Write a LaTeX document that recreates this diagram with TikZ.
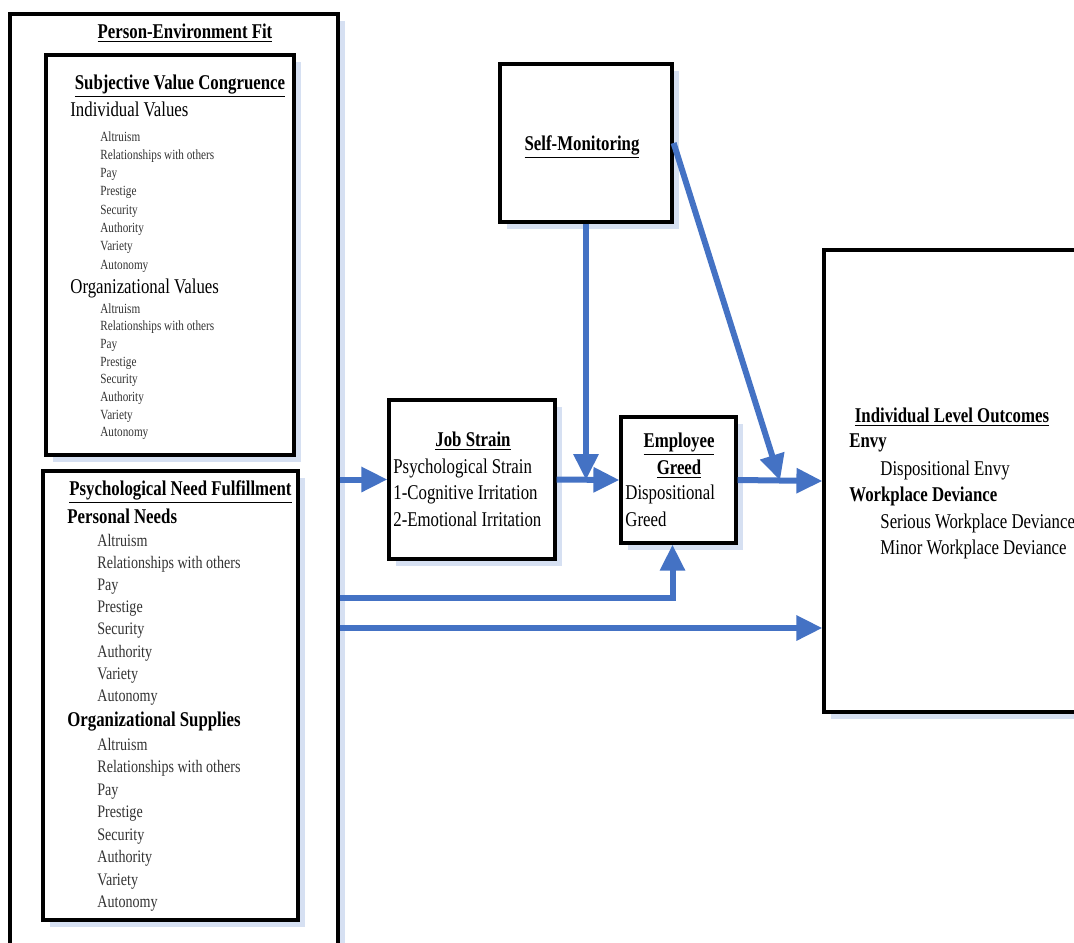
\documentclass[tikz,border=0pt]{standalone}
\usepackage{fontspec}
\setmainfont{Liberation Serif}[FakeStretch=0.8]
\usetikzlibrary{arrows.meta , shadows , calc}

\definecolor{arrowblue}{RGB}{68,114,196}
\definecolor{shadowblue}{RGB}{214,224,242}

\newcommand{\valuelist}{Altruism, Relationships with others, Pay, Prestige, Security, Authority, Variety, Autonomy}

\tikzset{
    box/.style = {draw , line width = 1.6pt , fill = white , inner sep = 0pt ,
        drop shadow = {shadow xshift = 3.5pt , shadow yshift = -3.5pt , fill = shadowblue , opacity = 1}},
    link/.style = {draw = arrowblue , line width = 3pt , -{Triangle[length = 13pt , width = 12pt]}},
    title/.style = {font = \fontsize{10.5}{13}\selectfont\bfseries , inner sep = 0pt , anchor = base},
    subhead/.style = {font = \fontsize{10.5}{13}\selectfont\bfseries , inner sep = 0pt , anchor = base west},
    label/.style = {font = \fontsize{10.5}{13}\selectfont , inner sep = 0pt , anchor = base west},
    itemsm/.style = {font = \fontsize{7}{9}\selectfont , text = black!80 , inner sep = 0pt , anchor = base west},
    itemmd/.style = {font = \fontsize{8.8}{11}\selectfont , text = black!80 , inner sep = 0pt , anchor = base west}
}

\begin{document}
\begin{tikzpicture}[x = 0.5pt , y = -0.5pt]
    \useasboundingbox (0,0) rectangle (1074,942);
    \clip (0,0) rectangle (1074,942);

    % Kasten
    \node[box , minimum width = 164pt , minimum height = 478pt] (pe) at (174,492) {};
    \node[box , minimum width = 124pt , minimum height = 200pt] (svc) at (170,255) {};
    \node[box , minimum width = 127.5pt , minimum height = 224.5pt] (pnf) at (170.5,695.5) {};
    \node[box , minimum width = 86pt , minimum height = 79pt] (sm) at (586,143) {};
    \node[box , minimum width = 83pt , minimum height = 79.5pt] (js) at (472,479.5) {};
    \node[box , minimum width = 57.5pt , minimum height = 63pt] (eg) at (678.5,480) {};
    \node[box , minimum width = 133pt , minimum height = 231pt] (out) at (957,481) {};

    % Person-Environment Fit
    \node[title] (pet) at (185,38) {\underline{Person-Environment Fit}};
    \node[title] (svct) at (180,89) {\underline{Subjective Value Congruence}};
    \node[label] (ivh) at (70,116) {Individual Values};
    \foreach \entry [count = \i] in \valuelist
        \node[itemsm] (iv\i) at (100 , {141 + 18.3*(\i-1)}) {\entry};
    \node[label] (ovh) at (70,293) {Organizational Values};
    \foreach \entry [count = \i] in \valuelist
        \node[itemsm] (ov\i) at (100 , {313 + 17.7*(\i-1)}) {\entry};

    \node[title] (pnft) at (180.5,495) {\underline{Psychological Need Fulfillment}};
    \node[subhead] (pnh) at (67,523) {Personal Needs};
    \foreach \entry [count = \i] in \valuelist
        \node[itemmd] (pn\i) at (97 , {546 + 22.2*(\i-1)}) {\entry};
    \node[subhead] (osh) at (67,726) {Organizational Supplies};
    \foreach \entry [count = \i] in \valuelist
        \node[itemmd] (os\i) at (97 , {750 + 22.5*(\i-1)}) {\entry};

    % Self-Monitoring
    \node[title] (smt) at (582,150) {\underline{Self-Monitoring}};

    % Job Strain
    \node[title] (jst) at (473,446) {\underline{Job Strain}};
    \node[label] (js1) at (393,473) {Psychological Strain};
    \node[label] (js2) at (393,499) {1-Cognitive Irritation};
    \node[label] (js3) at (393,526) {2-Emotional Irritation};

    % Employee Greed
    \node[title] (egt1) at (679,447) {\underline{Employee}};
    \node[title] (egt2) at (679,474) {\underline{Greed}};
    \node[label] (eg1) at (625,499) {Dispositional};
    \node[label] (eg2) at (625,526) {Greed};

    % Outcomes
    \node[title] (outt) at (952,422) {\underline{Individual Level Outcomes}};
    \node[subhead] (envy) at (849,447) {Envy};
    \node[label] (envy1) at (880,475) {Dispositional Envy};
    \node[subhead] (dev) at (849,501) {Workplace Deviance};
    \node[label] (dev1) at (880,528) {Serious Workplace Deviance};
    \node[label] (dev2) at (880,554) {Minor Workplace Deviance};

    % Pfeile
    \coordinate (egin) at ([xshift = -3pt]eg.south);
    \draw[link] (pe.east |- js.west) -- (js.west);
    \draw[link] (js.east) -- (eg.west);
    \draw[link] (sm.south) -- (sm.south |- eg.west);
    \draw[link] (eg.east) -- (out.west);
    \draw[link] (sm.east) -- ($(eg.east)!0.5!(out.west)$);
    \draw[link] (pe.east |- 0,598) -- (egin |- 0,598) -- (egin);
    \draw[link] (pe.east |- 0,628) -- (out.west |- 0,628);
\end{tikzpicture}
\end{document}
